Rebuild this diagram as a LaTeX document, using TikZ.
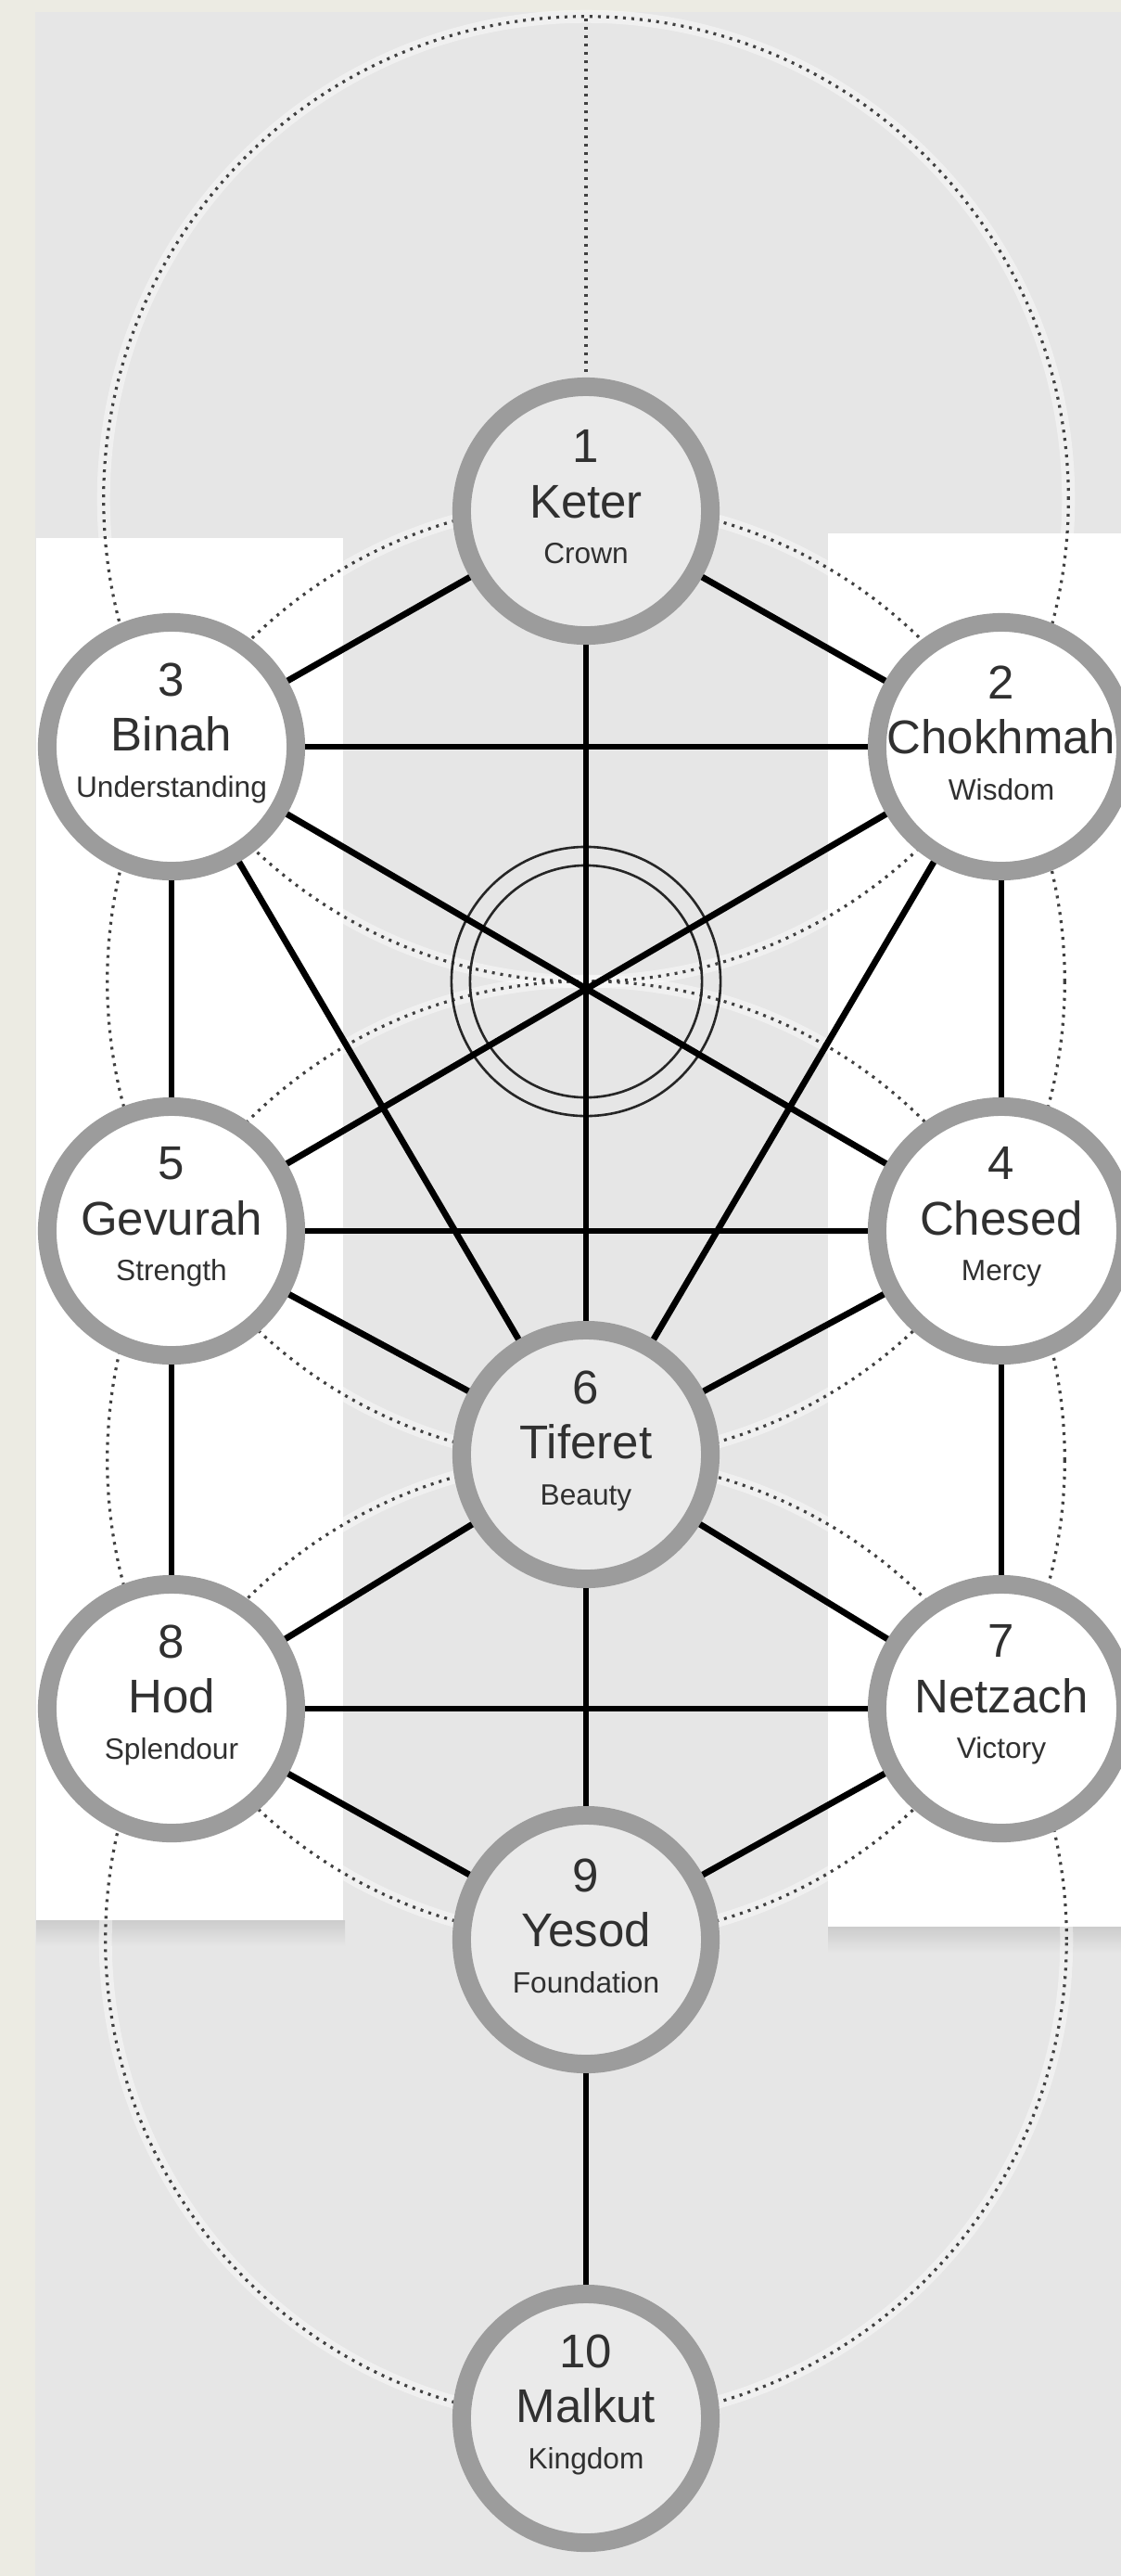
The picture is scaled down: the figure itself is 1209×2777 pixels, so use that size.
\documentclass[tikz,border=0pt]{standalone}
\usepackage{fontspec}
\setmainfont{Liberation Sans}
\usepackage{xcolor}

\definecolor{paper}{HTML}{ECEBE3}
\definecolor{panel}{HTML}{E6E6E6}
\definecolor{ringgray}{HTML}{9C9C9C}
\definecolor{core}{HTML}{EAEAEA}
\definecolor{ink}{HTML}{303030}

\newcommand{\sefgloss}[1]{{\fontsize{9}{11}\selectfont #1}}

\begin{document}
\begin{tikzpicture}[x=0.01cm, y=-0.01cm,
    sefira/.style={circle, draw=ringgray, line width=0.2cm, minimum size=2.68cm, inner sep=0pt},
    midsef/.style={sefira, fill=core},
    sidesef/.style={sefira, fill=white},
    caption/.style={align=center, inner sep=0pt, text=ink, yshift=0.15cm, font=\fontsize{14.5}{17}\selectfont},
    link/.style={black, line width=0.068cm},
    guide/.style={black!75, line width=0.032cm, dash pattern=on 0.03cm off 0.06cm},
    halo/.style={white, opacity=0.4, line width=0.14cm},
    daatring/.style={circle, draw=black!85, line width=0.026cm, inner sep=0pt}]

      \useasboundingbox (0,0) rectangle (1209,2777);

      % backdrop and side panels
      \fill[paper] (0,0) rectangle (1209,2777);
      \fill[panel] (38,13) rectangle (1209,2777);
      \shade[top color=black!20, bottom color=panel] (39,2070) rectangle (372,2098);
      \shade[top color=black!20, bottom color=panel] (893,2077) rectangle (1209,2105);
      \fill[white] (39,580) rectangle (370,2070);
      \fill[white] (893,575) rectangle (1209,2077);

      % construction circles
      \draw[halo]  (632, 538) circle[radius=5.20cm];
      \draw[halo]  (632,1058) circle[radius=5.16cm];
      \draw[halo]  (632,1574) circle[radius=5.16cm];
      \draw[halo]  (632,2091) circle[radius=5.18cm];
      \draw[guide] (632, 538) circle[radius=5.20cm];
      \draw[guide] (632,1058) circle[radius=5.16cm];
      \draw[guide] (632,1574) circle[radius=5.16cm];
      \draw[guide] (632,2091) circle[radius=5.18cm];

      % daat
      \node[daatring, minimum size=2.9cm] (daat-o) at (632,1058) {};
      \node[daatring, minimum size=2.5cm] (daat-i) at (632,1058) {};

      % sefirot
      \node[midsef]  (keter)    at ( 632,  551) {};
      \node[sidesef] (chokhmah) at (1080,  805) {};
      \node[sidesef] (binah)    at ( 185,  805) {};
      \node[sidesef] (chesed)   at (1080, 1327) {};
      \node[sidesef] (gevurah)  at ( 185, 1327) {};
      \node[midsef]  (tiferet)  at ( 632, 1568) {};
      \node[sidesef] (netzach)  at (1080, 1842) {};
      \node[sidesef] (hod)      at ( 185, 1842) {};
      \node[midsef]  (yesod)    at ( 632, 2091) {};
      \node[midsef]  (malkut)   at ( 632, 2607) {};

      \node[caption] (keter-t)    at (keter)    {1\\Keter\\[-3pt]\sefgloss{Crown}};
      \node[caption] (chokhmah-t) at (chokhmah) {2\\Chokhmah\\[-3pt]\sefgloss{Wisdom}};
      \node[caption] (binah-t)    at (binah)    {3\\Binah\\[-3pt]\sefgloss{Understanding}};
      \node[caption] (chesed-t)   at (chesed)   {4\\Chesed\\[-3pt]\sefgloss{Mercy}};
      \node[caption] (gevurah-t)  at (gevurah)  {5\\Gevurah\\[-3pt]\sefgloss{Strength}};
      \node[caption] (tiferet-t)  at (tiferet)  {6\\Tiferet\\[-3pt]\sefgloss{Beauty}};
      \node[caption] (netzach-t)  at (netzach)  {7\\Netzach\\[-3pt]\sefgloss{Victory}};
      \node[caption] (hod-t)      at (hod)      {8\\Hod\\[-3pt]\sefgloss{Splendour}};
      \node[caption] (yesod-t)    at (yesod)    {9\\Yesod\\[-3pt]\sefgloss{Foundation}};
      \node[caption] (malkut-t)   at (malkut)   {10\\Malkut\\[-3pt]\sefgloss{Kingdom}};

      \coordinate (apex) at (632,20);
      \draw[guide] (apex) -- (keter);

      % paths
      \draw[link] (keter) -- (chokhmah);
      \draw[link] (keter) -- (binah);
      \draw[link] (keter) -- (tiferet);
      \draw[link] (binah) -- (chokhmah);
      \draw[link] (binah) -- (gevurah);
      \draw[link] (chokhmah) -- (chesed);
      \draw[link] (binah) -- (tiferet);
      \draw[link] (chokhmah) -- (tiferet);
      \draw[link] (binah) -- (chesed);
      \draw[link] (chokhmah) -- (gevurah);
      \draw[link] (gevurah) -- (chesed);
      \draw[link] (gevurah) -- (tiferet);
      \draw[link] (chesed) -- (tiferet);
      \draw[link] (gevurah) -- (hod);
      \draw[link] (chesed) -- (netzach);
      \draw[link] (tiferet) -- (hod);
      \draw[link] (tiferet) -- (netzach);
      \draw[link] (tiferet) -- (yesod);
      \draw[link] (hod) -- (netzach);
      \draw[link] (hod) -- (yesod);
      \draw[link] (netzach) -- (yesod);
      \draw[link] (yesod) -- (malkut);
    \end{tikzpicture}
\end{document}
